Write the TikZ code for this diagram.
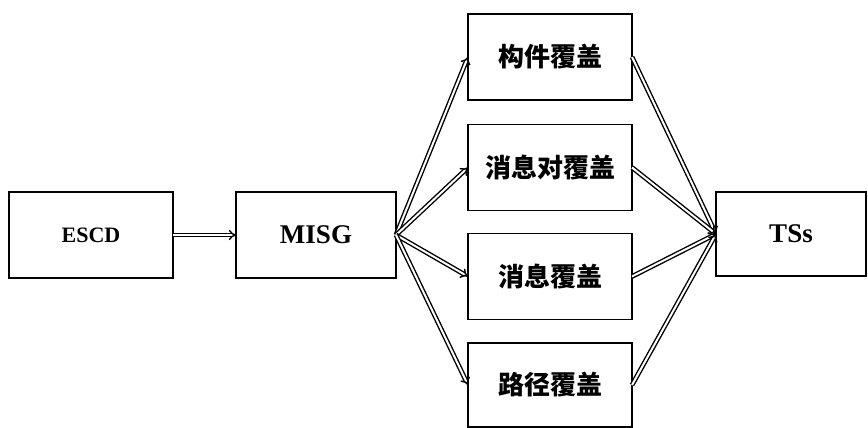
\documentclass[tikz,border=0pt]{standalone}
\usepackage{fontspec}
\setmainfont{Liberation Serif}
\newfontfamily\cjk{Noto Sans CJK SC}
\usetikzlibrary{arrows.meta}
\begin{document}
\begin{tikzpicture}[x=1pt,y=-1pt,
  box/.style={draw=black,line width=1.8pt,minimum width=164pt,minimum height=86pt,inner sep=0pt,outer sep=0pt,fill=white},
  cn/.style={font=\cjk\bfseries\fontsize{26}{29}\selectfont},
  dbl/.style={draw=black,double=white,double distance=2pt,line width=1.4pt,-{Implies[length=6pt]}}]
\useasboundingbox (0,0) rectangle (868,428);
\fill[white] (0,0) rectangle (868,428);
\node[box,font=\bfseries\fontsize{22}{25}\selectfont] (escd) at (91,235) {ESCD};
\node[box,minimum width=160pt,font=\bfseries\fontsize{27}{30}\selectfont] (misg) at (316,235) {MISG};
\node[box,cn] (b1) at (550,57) {构件覆盖};
\node[box,cn] (b2) at (550,167.5) {消息对覆盖};
\node[box,cn] (b3) at (550,276.5) {消息覆盖};
\node[box,cn,minimum height=84pt] (b4) at (550,385) {路径覆盖};
\node[box,minimum width=150pt,minimum height=84pt,font=\bfseries\fontsize{27}{30}\selectfont] (ts) at (791,234) {TSs};
\draw[dbl] (escd.east) -- (misg.west);
\foreach \b in {b1,b2,b3,b4}{
  \draw[dbl] (misg.east) -- (\b.west);
  \draw[dbl] (\b.east) -- (ts.west);
}
\end{tikzpicture}
\end{document}
